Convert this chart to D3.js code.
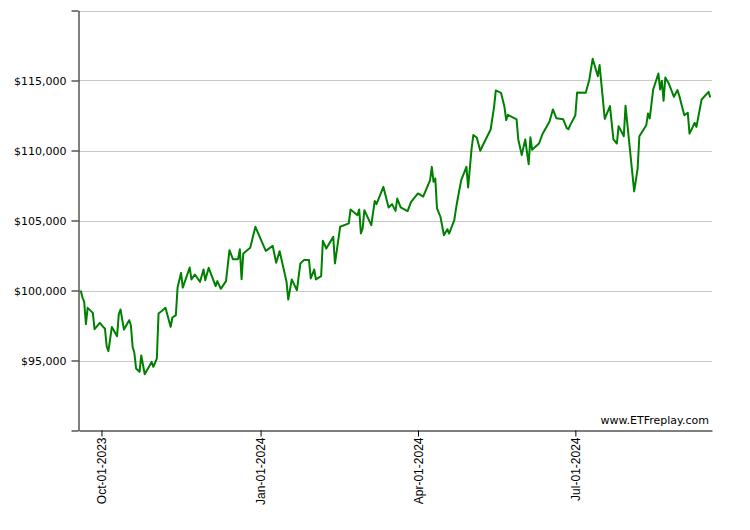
<!DOCTYPE html>
<html>
<head>
<meta charset="utf-8">
<script src="https://cdn.jsdelivr.net/npm/d3@7/dist/d3.min.js"></script>
<style>
  html, body { margin: 0; padding: 0; background: #fff; }
  svg { display: block; }
</style>
</head>
<body>
<svg id="chart" width="750" height="530"></svg>
<script>
// ---- data ----
const dates = [
"2023-09-19","2023-09-20","2023-09-21","2023-09-22","2023-09-23","2023-09-26","2023-09-27","2023-09-30",
"2023-10-02","2023-10-03","2023-10-04","2023-10-05","2023-10-07","2023-10-10","2023-10-11","2023-10-12",
"2023-10-14","2023-10-17","2023-10-18","2023-10-19","2023-10-20","2023-10-21","2023-10-23","2023-10-24",
"2023-10-26","2023-10-30","2023-10-31","2023-11-02","2023-11-03","2023-11-05","2023-11-07","2023-11-10",
"2023-11-11","2023-11-13","2023-11-14","2023-11-16","2023-11-17","2023-11-21","2023-11-22","2023-11-24",
"2023-11-27","2023-11-29","2023-11-30","2023-12-02","2023-12-06","2023-12-07","2023-12-09","2023-12-12",
"2023-12-14","2023-12-16","2023-12-19","2023-12-20","2023-12-21","2023-12-22","2023-12-26","2023-12-29",
"2024-01-04","2024-01-08","2024-01-10","2024-01-12","2024-01-16","2024-01-17","2024-01-19","2024-01-22",
"2024-01-24","2024-01-26","2024-01-29","2024-01-30","2024-02-01","2024-02-02","2024-02-05","2024-02-06",
"2024-02-08","2024-02-12","2024-02-13","2024-02-16","2024-02-21","2024-02-22","2024-02-26","2024-02-27",
"2024-02-28","2024-02-29","2024-03-01","2024-03-05","2024-03-07","2024-03-08","2024-03-12","2024-03-15",
"2024-03-17","2024-03-19","2024-03-20","2024-03-22","2024-03-26","2024-03-28","2024-04-01","2024-04-04",
"2024-04-08","2024-04-09","2024-04-10","2024-04-11","2024-04-12","2024-04-14","2024-04-16","2024-04-18",
"2024-04-19","2024-04-22","2024-04-23","2024-04-24","2024-04-26","2024-04-29","2024-04-30","2024-05-02",
"2024-05-03","2024-05-05","2024-05-07","2024-05-09","2024-05-13","2024-05-15","2024-05-16","2024-05-19",
"2024-05-21","2024-05-22","2024-05-23","2024-05-28","2024-05-29","2024-05-31","2024-06-02","2024-06-04",
"2024-06-05","2024-06-06","2024-06-10","2024-06-12","2024-06-16","2024-06-18","2024-06-20","2024-06-24",
"2024-06-26","2024-06-27","2024-06-28","2024-07-01","2024-07-02","2024-07-07","2024-07-09","2024-07-11",
"2024-07-14","2024-07-15","2024-07-18","2024-07-21","2024-07-23","2024-07-25","2024-07-26","2024-07-29",
"2024-07-30","2024-08-04","2024-08-06","2024-08-07","2024-08-11","2024-08-12","2024-08-13","2024-08-15",
"2024-08-18","2024-08-19","2024-08-20","2024-08-21","2024-08-22","2024-08-24","2024-08-27","2024-08-29",
"2024-08-30","2024-09-02","2024-09-04","2024-09-05","2024-09-08","2024-09-09","2024-09-12","2024-09-16",
"2024-09-17"
];
const values = [
100000,99500,99190,97600,98760,98400,97240,97690,
97400,97290,96020,95670,97400,96740,98290,98640,
97210,97880,97520,95980,95550,94430,94190,95360,
94020,94900,94550,95140,98360,98550,98760,97400,
98070,98240,100210,101260,100210,101640,100790,101140,
100620,101500,100740,101620,100310,100670,100120,100670,
102880,102240,102240,102950,100810,102640,103050,104550,
102830,103190,101980,102810,100620,99350,100790,100020,
101930,102170,102170,100860,101500,100790,101020,103550,
103000,103830,101930,104550,104790,105790,105380,105790,
104070,104430,105740,104670,106400,106170,107400,105930,
106170,105690,106570,105930,105670,106330,106930,106710,
107880,108830,107760,108000,105860,105260,103950,104380,
104070,105020,105860,106570,107880,108830,107360,110140,
111100,110930,109980,110500,111500,113120,114290,114120,
113120,112170,112550,112230,110790,109670,110790,109020,
110950,110050,110500,111180,112050,112930,112310,112230,
111600,111520,111810,112520,114140,114130,115020,116550,
115310,116100,112260,113170,110800,110500,111740,111020,
113190,107080,108710,111020,111810,112650,112290,114360,
115500,114360,114980,113550,115210,114790,113830,114310,
113950,112520,112690,111210,111980,111690,113640,114190,
113790
];
const xDomain = ["2023-09-18", "2024-09-18"];
const xTickDates = ["2023-10-01", "2024-01-01", "2024-04-01", "2024-07-01"];
const yTicks = [90000, 95000, 100000, 105000, 110000, 115000, 120000];
const yLabelled = [95000, 100000, 105000, 110000, 115000];
const watermark = "www.ETFreplay.com";

// ---- chart ----
(function () {
const parse = d3.utcParse("%Y-%m-%d");
const data = dates.map((d, i) => ({ date: parse(d), value: values[i] }));

const svg = d3.select("#chart");
const mLeft = 79, mRight = 712, mTop = 10.5, mBottom = 430.5;

const x = d3.scaleUtc().domain(xDomain.map(parse)).range([mLeft, mRight]);
const y = d3.scaleLinear().domain([90000, 120000]).range([mBottom, mTop]);

// gridlines
svg.append("g")
  .selectAll("line")
  .data(yTicks.filter(v => v > 90000))
  .join("line")
  .attr("x1", mLeft).attr("x2", mRight)
  .attr("y1", d => Math.round(y(d)) + 0.5).attr("y2", d => Math.round(y(d)) + 0.5)
  .attr("stroke", "#c8c8c8").attr("stroke-width", 1);

// y axis
const fmt = d3.format("$,");
const yAxis = d3.axisLeft(y)
  .tickValues(yTicks)
  .tickSizeInner(7).tickSizeOuter(0).tickPadding(5)
  .tickFormat(d => yLabelled.includes(d) ? fmt(d) : "");
const gy = svg.append("g").attr("transform", `translate(${mLeft - 0.5},0)`).call(yAxis);
gy.selectAll("text").attr("font-family", "'DejaVu Sans', Verdana, sans-serif").attr("font-size", 11).attr("fill", "#000");
gy.selectAll("line, path").attr("stroke", "#000");

// x axis
const tfmt = d3.utcFormat("%b-%d-%Y");
const xAxis = d3.axisBottom(x)
  .tickValues(xTickDates.map(parse))
  .tickSizeInner(6).tickSizeOuter(0)
  .tickFormat(tfmt);
const gx = svg.append("g").attr("transform", `translate(0,${mBottom})`).call(xAxis);
gx.selectAll("line, path").attr("stroke", "#000");
gx.selectAll("text")
  .attr("font-family", "'Liberation Sans', Arial, sans-serif")
  .attr("font-size", 12)
  .attr("fill", "#000")
  .attr("text-anchor", "end")
  .attr("transform", "rotate(-90)")
  .attr("x", -7)
  .attr("y", 0)
  .attr("dy", "0.36em")
  .attr("dx", 0);

// line
const line = d3.line().x(d => x(d.date)).y(d => y(d.value));
svg.append("path")
  .datum(data)
  .attr("d", line)
  .attr("fill", "none")
  .attr("stroke", "#008000")
  .attr("stroke-width", 2)
  .attr("stroke-linejoin", "round");

// watermark
svg.append("text")
  .attr("x", 709).attr("y", 424)
  .attr("text-anchor", "end")
  .attr("font-family", "'DejaVu Sans', Verdana, sans-serif")
  .attr("font-size", 11)
  .attr("fill", "#000")
  .text(watermark);
})();
</script>
</body>
</html>
